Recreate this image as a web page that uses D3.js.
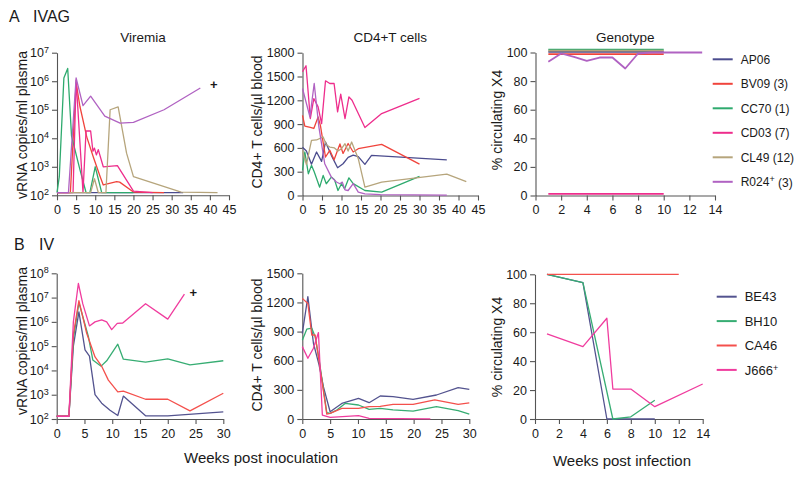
<!DOCTYPE html>
<html>
<head>
<meta charset="UTF-8">
<title>IVAG / IV</title>
<script src="https://cdn.jsdelivr.net/npm/d3@7"></script>
<style>
  body { margin: 0; background: #fff; }
  text { font-family: "Liberation Sans", Arial, sans-serif; fill: #1a1a1a; }
</style>
</head>
<body>
<script>
// ---- data ----
var ivagAnimals = ["AP06", "BV09", "CC70", "CD03", "CL49", "R024"];
var ivagLegend  = ["AP06", "BV09 (3)", "CC70 (1)", "CD03 (7)", "CL49 (12)", "R024|+| (3)"];
var ivAnimals   = ["BE43", "BH10", "CA46", "J666"];
var ivLegend    = ["BE43", "BH10", "CA46", "J666|+|"];

// [week, vRNA copies/ml], one list per animal, same order as ivagAnimals
var ivagViremia = [
  [[0,125],[5,125],[10,125],[16,125],[20,125],[28,125],[33,125]],
  [[0,125],[3.5,125],[5,9e5],[6,1.3e5],[7.8,1.1e4],[9.5,2.2e3],[11.3,450],[12.1,230],[15.6,300],[16.4,290],[20,130],[28,125]],
  [[0,125],[0.6,450],[1.8,1.3e6],[2.8,2.8e6],[3.8,1.2e4],[6,800],[7.6,125],[8.6,125],[10,1000],[11.7,125],[20,125]],
  [[0,125],[4.2,125],[5,1.1e6],[6.8,125],[7.6,1.8e4],[8.8,1.8e4],[9.4,3.5e3],[9.8,4.5e3],[10.3,2.6e3],[10.8,4e3],[12.1,1e3],[15.8,1.1e3],[20,140],[25,125]],
  [[0,125],[8.8,125],[9.8,380],[10.8,125],[12.8,125],[13.9,1e5],[16,1.25e5],[18.2,3e3],[20,450],[32.5,130],[42,125]],
  [[0,125],[3,125],[5,1.3e6],[6.8,1.4e5],[8.8,3e5],[12.5,6e4],[16.5,3.4e4],[20,3.6e4],[28,1e5],[37.5,5.8e5]]
];
var ivagDeath = [[41, 7.5e5]];

// [week, CD4+ T cells/ul]
var ivagCD4 = [
  [[0,608],[1,560],[2.3,395],[3.6,548],[4.9,430],[5.9,675],[7.4,506],[9,350],[10.4,400],[11.7,480],[13,510],[14.3,490],[16,392],[17.7,506],[37,450]],
  [[0,1010],[0.6,875],[2,860],[2.9,845],[4,990],[4.6,880],[5.9,485],[7,570],[8.1,450],[9.6,650],[10.4,530],[11.7,655],[13,548],[14.3,590],[20.3,645],[30,395]],
  [[0,316],[0.6,548],[1.5,274],[2.3,380],[3,300],[4.4,105],[5.3,253],[6.1,148],[7.4,232],[8.2,200],[9.1,63],[10,148],[10.8,84],[11.9,223],[13,150],[16,63],[20.3,42],[30,240]],
  [[0,1560],[0.9,1635],[2,970],[2.9,1222],[4,1117],[4.9,906],[5.9,1446],[7,1412],[8.1,1412],[9,1054],[9.8,1277],[10.9,970],[11.9,1243],[12.7,1201],[16,856],[20.3,1033],[30,1225]],
  [[0,569],[1,390],[2.3,695],[3.6,700],[5.3,738],[6.1,640],[7,611],[8.2,600],[9.1,560],[10,590],[10.9,653],[11.7,560],[12.6,674],[14.3,464],[16,105],[20.3,169],[37,270],[42,175]],
  [[0,1349],[1.9,990],[3,1412],[4.2,864],[5.7,400],[7.4,232],[8.7,170],[9.6,148],[10.2,169],[10.9,72],[11.7,63],[13,150],[14.3,42],[16,21],[20,10],[37,5]]
];

// [week, % circulating X4]
var ivagGeno = [
  [[1,100.5],[4,100.5],[7,100.5],[10,100.5]],
  [[1,98.8],[4,98.8],[7,98.8],[10,98.8]],
  [[1,102],[4,102],[7,102],[10,102]],
  [[1,1.2],[4,1.2],[7,1.2],[10,1.2]],
  [[1,101.3],[4,101.3],[7,101.3],[10,101.3]],
  [[1,93.5],[2,99.3],[3,97],[4,94.2],[5,96.5],[6,96.5],[7,88.8],[8,99.3],[9,100],[10,100],[13,100]]
];

var ivViremia = [
  [[0,130],[2.2,130],[3,1e5],[4,2.6e6],[5.1,7e4],[5.9,3.9e4],[6.9,1e3],[8.1,450],[9.6,230],[11,140],[12,880],[16,135],[20,135],[30,195]],
  [[0,130],[2.2,130],[3,2e5],[4,6.2e6],[5.7,2.5e5],[6.5,2.7e4],[8,1.5e4],[9,2.5e4],[11,1.2e5],[12,2.9e4],[16,2.2e4],[20,3e4],[24,1.7e4],[30,2.5e4]],
  [[0,130],[2.2,130],[3,3e5],[4,7.5e6],[5.4,3.4e5],[6.9,3.6e4],[8.1,1.5e4],[9.3,4e3],[11,1.3e3],[12,1.4e3],[16,650],[20,650],[24,215],[30,1150]],
  [[0,130],[2.2,130],[3,1e6],[3.9,3.8e7],[4.7,5.5e6],[5.9,6.8e5],[6.9,1e6],[8.1,1.2e6],[9,1e6],[9.9,4.8e5],[10.9,8.7e5],[11.9,9e5],[16,5.6e6],[20,1.3e6],[23,1.4e7]]
];
var ivDeath = [[24.6, 1.7e7]];

var ivCD4 = [
  [[0,880],[1,1260],[2,780],[3,560],[3.8,330],[5,75],[7.1,160],[10.1,213],[12,168],[14,237],[16.3,230],[19.9,202],[24.1,247],[28,323],[30,305]],
  [[0,810],[0.8,925],[1.7,935],[2.3,850],[3,620],[4.4,65],[5,58],[6.2,93],[7.7,160],[10.1,144],[12,100],[14,110],[16.3,93],[19.9,82],[24.1,127],[28,86],[30,50]],
  [[0,1242],[1,1190],[1.7,865],[2.3,865],[3,600],[4.4,51],[5,58],[7.1,110],[10.1,110],[12,127],[14,130],[16.3,151],[19.9,151],[23.8,196],[28,151],[30,165]],
  [[0,745],[1,625],[2,728],[2.9,890],[3.6,41],[5,17],[10.1,34],[12,7],[23,2]]
];

var ivGeno = [
  [[1,100],[4,94.2],[6,0],[10,0]],
  [[1,100],[4,94.2],[6.5,0],[8,1.5],[10,13]],
  [[1,100],[12,100]],
  [[1,58.8],[4,50],[6,69.6],[6.5,20.7],[8,20.7],[10,8.5],[14,24.2]]
];

var ticks45 = [0,5,10,15,20,25,30,35,40,45];
var ticks30 = [0,5,10,15,20,25,30];
var ticks14 = [0,2,4,6,8,10,12,14];
var ticksPct = [0,20,40,60,80,100];
var ticksCD4a = [0,300,600,900,1200,1500,1800];
var ticksCD4b = [0,300,600,900,1200,1500];
var ticksLogA = [1e2,1e3,1e4,1e5,1e6,1e7];
var ticksLogB = [1e2,1e3,1e4,1e5,1e6,1e7,1e8];

// ---- styles ----
var ivagColors = ["#4b4c8e", "#f0443c", "#2eaa6e", "#ee2d8c", "#b6a57c", "#b062c2"];
var ivColors   = ["#53538f", "#37ad73", "#f4504c", "#f03c9e"];

var svg = d3.select("body").append("svg").attr("width", 800).attr("height", 479);

function panel(p) {
  var g = svg.append("g");
  var x = d3.scaleLinear().domain(p.xd).range([p.left, p.right]);
  var y = (p.log ? d3.scaleLog() : d3.scaleLinear()).domain(p.yd).range([p.bottom, p.top]);

  var xa = g.append("g").attr("transform", "translate(0," + p.bottom + ")")
    .call(d3.axisBottom(x).tickValues(p.xt).tickSize(5).tickSizeOuter(0).tickPadding(5));
  var ya = g.append("g").attr("transform", "translate(" + p.left + ",0)")
    .call(d3.axisLeft(y).tickValues(p.yt).tickSize(5).tickSizeOuter(0).tickPadding(3)
      .tickFormat(function(d){ return d; }));
  [xa, ya].forEach(function(a){
    a.attr("font-family", null).attr("font-size", null);
    a.selectAll("path, line").attr("stroke", "#555").attr("stroke-width", 1.1);
    a.selectAll("text").attr("font-size", "12.5px").attr("fill", "#1a1a1a");
  });
  if (p.log) {
    ya.selectAll(".tick text").each(function(d){
      var t = d3.select(this);
      t.text("");
      t.append("tspan").text("10");
      t.append("tspan").attr("dy", "-0.5em").attr("font-size", "9px").text(Math.round(Math.log10(d)));
    });
  }

  var line = d3.line().x(function(d){ return x(d[0]); }).y(function(d){ return y(d[1]); });
  g.selectAll("path.series").data(p.series).enter().append("path")
    .attr("class", "series")
    .attr("d", line)
    .attr("fill", "none")
    .attr("stroke", function(d, i){ return p.colors[i]; })
    .attr("stroke-width", p.width || 1.3)
    .attr("stroke-linejoin", "round");

  if (p.death) {
    g.selectAll("text.death").data(p.death).enter().append("text")
      .attr("class", "death")
      .attr("x", function(d){ return x(d[0]); })
      .attr("y", function(d){ return y(d[1]); })
      .attr("dy", "0.35em")
      .attr("text-anchor", "middle")
      .attr("font-size", "13px")
      .attr("font-weight", "bold")
      .text("+");
  }

  if (p.title) {
    g.append("text").attr("x", (p.left + p.right) / 2 + (p.titleDx || 0)).attr("y", p.top - 11)
      .attr("text-anchor", "middle").attr("font-size", "13.5px").text(p.title);
  }
  if (p.ylab) {
    g.append("text")
      .attr("transform", "translate(" + p.ylabX + "," + p.ylabY + ") rotate(-90)")
      .attr("text-anchor", "middle").attr("font-size", "14px").text(p.ylab);
  }
}

function addLegend(labels, colors, lx, ty, step, fs) {
  var g = svg.append("g");
  var row = g.selectAll("g").data(labels).enter().append("g")
    .attr("transform", function(d, i){ return "translate(" + lx + "," + (ty + i * step) + ")"; });
  row.append("line").attr("x1", 0).attr("x2", 20).attr("y1", 0).attr("y2", 0)
    .attr("stroke", function(d, i){ return colors[i]; }).attr("stroke-width", 2);
  row.append("text").attr("x", 28).attr("dy", "0.36em").attr("font-size", fs)
    .each(function(d){
      var parts = d.split("|");
      var t = d3.select(this);
      t.append("tspan").text(parts[0]);
      if (parts.length > 1) {
        t.append("tspan").attr("dy", "-0.45em").attr("font-size", "9px").text(parts[1]);
        t.append("tspan").attr("dy", "0.45em").text(parts[2]);
      }
    });
}

// ---- row A: IVAG ----
panel({left: 57, right: 229, top: 52.7, bottom: 195.3, xd: [0,45], yd: [1e2,1e7], log: true,
  xt: ticks45, yt: ticksLogA, series: ivagViremia, colors: ivagColors, death: ivagDeath,
  title: "Viremia", ylab: "vRNA copies/ml plasma", ylabX: 27, ylabY: 125});
panel({left: 302.5, right: 478, top: 52.7, bottom: 195.5, xd: [0,45], yd: [0,1800],
  xt: ticks45, yt: ticksCD4a, series: ivagCD4, colors: ivagColors,
  title: "CD4+T cells", ylab: "CD4+ T cells/\u00b5l blood", ylabX: 262, ylabY: 122});
panel({left: 535.5, right: 715, top: 52.5, bottom: 195.5, xd: [0,14], yd: [0,100],
  xt: ticks14, yt: ticksPct, series: ivagGeno, colors: ivagColors, width: 1.8,
  title: "Genotype", ylab: "% circulating X4", ylabX: 502, ylabY: 120});
addLegend(ivagLegend, ivagColors, 712.7, 59.3, 24.5, "12px");

// ---- row B: IV ----
panel({left: 56.7, right: 223.3, top: 273.3, bottom: 419, xd: [0,30], yd: [1e2,1e8], log: true,
  xt: ticks30, yt: ticksLogB, series: ivViremia, colors: ivColors, death: ivDeath,
  ylab: "vRNA copies/ml plasma", ylabX: 27, ylabY: 341});
panel({left: 302.3, right: 469.3, top: 273.3, bottom: 419, xd: [0,30], yd: [0,1500],
  xt: ticks30, yt: ticksCD4b, series: ivCD4, colors: ivColors,
  ylab: "CD4+ T cells/\u00b5l blood", ylabX: 262, ylabY: 345});
panel({left: 535, right: 702.7, top: 274.3, bottom: 419, xd: [0,14], yd: [0,100],
  xt: ticks14, yt: ticksPct, series: ivGeno, colors: ivColors,
  ylab: "% circulating X4", ylabX: 502, ylabY: 347});
addLegend(ivLegend, ivColors, 716.7, 296.7, 24.4, "13px");

// ---- panel letters and shared axis titles ----
svg.append("text").attr("x", 9).attr("y", 22).attr("font-size", "16px").text("A");
svg.append("text").attr("x", 33).attr("y", 22).attr("font-size", "16px").text("IVAG");
svg.append("text").attr("x", 14).attr("y", 250).attr("font-size", "16px").text("B");
svg.append("text").attr("x", 39).attr("y", 250).attr("font-size", "16px").text("IV");
svg.append("text").attr("x", 261).attr("y", 463).attr("text-anchor", "middle").attr("font-size", "15px").text("Weeks post inoculation");
svg.append("text").attr("x", 622).attr("y", 466).attr("text-anchor", "middle").attr("font-size", "15px").text("Weeks post infection");
</script>
</body>
</html>
